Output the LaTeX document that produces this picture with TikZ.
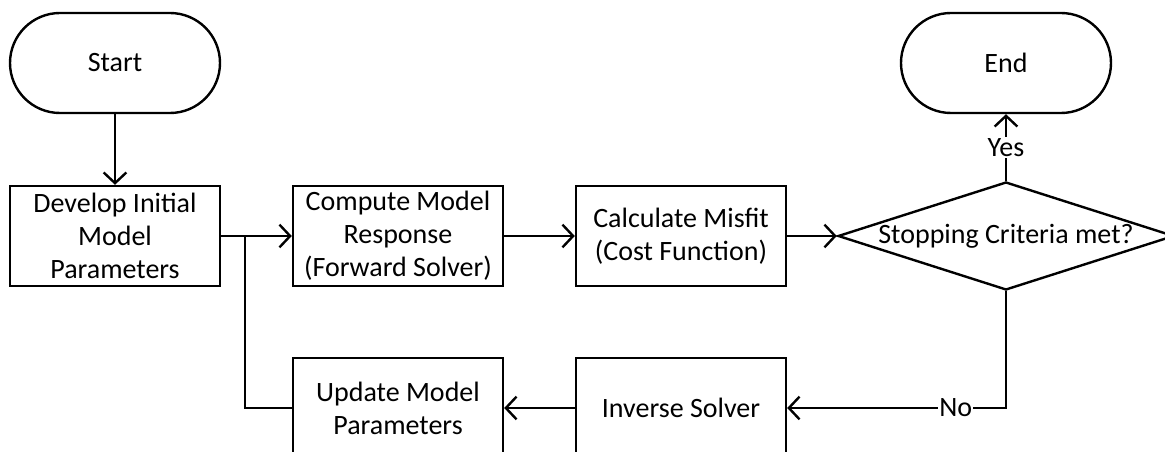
\documentclass[tikz,border=0pt]{standalone}
\usepackage{fontspec}
\setmainfont{Carlito}
\usetikzlibrary{arrows.meta,shapes.geometric}
\tikzset{
  base/.style={draw, line width=1.8pt, font=\fontsize{21}{24.8}\selectfont, align=center, inner sep=0pt},
  proc/.style={base, rectangle, minimum width=157.5pt, minimum height=75pt},
  term/.style={base, rectangle, rounded corners=37.5pt, minimum width=157.5pt, minimum height=75pt},
  dec/.style={base, diamond, aspect=3.11, minimum width=252pt, minimum height=81pt},
  conn/.style={line width=1.8pt, -{Straight Barb[length=8pt,width=17pt,line width=1.8pt]}},
  plain/.style={line width=1.8pt},
  lbl/.style={fill=white, font=\fontsize{21}{24.8}\selectfont, inner sep=1pt}
}
\begin{document}
\begin{tikzpicture}[x=0.75pt,y=-0.75pt]
\useasboundingbox (0,0) rectangle (1165,452);
\clip (0,0) rectangle (1165,452);
\node[term] (start) at (115,63) {Start};
\node[proc] (dev) at (115,236) {Develop Initial\\Model\\Parameters};
\node[proc] (comp) at (398,236) {Compute Model\\Response\\(Forward Solver)};
\node[proc] (calc) at (681,236) {Calculate Misfit\\(Cost Function)};
\node[dec] (stop) at (1006,236) {Stopping Criteria met?};
\node[term] (end) at (1006,63) {End};
\node[proc] (inv) at (681,408) {Inverse Solver};
\node[proc] (upd) at (398,408) {Update Model\\Parameters};
\coordinate (j) at (245,236);
\draw[conn] (start) -- (dev);
\draw[conn] (dev) -- (comp);
\draw[conn] (comp) -- (calc);
\draw[conn] (calc) -- (stop);
\draw[conn] (stop.north) -- (end.south) node[lbl, midway] {Yes};
\draw[conn] (stop.south) |- (inv.east) node[lbl, pos=0.615] {No};
\draw[conn] (inv) -- (upd);
\draw[plain] (upd.west) -| (j);
\end{tikzpicture}
\end{document}
